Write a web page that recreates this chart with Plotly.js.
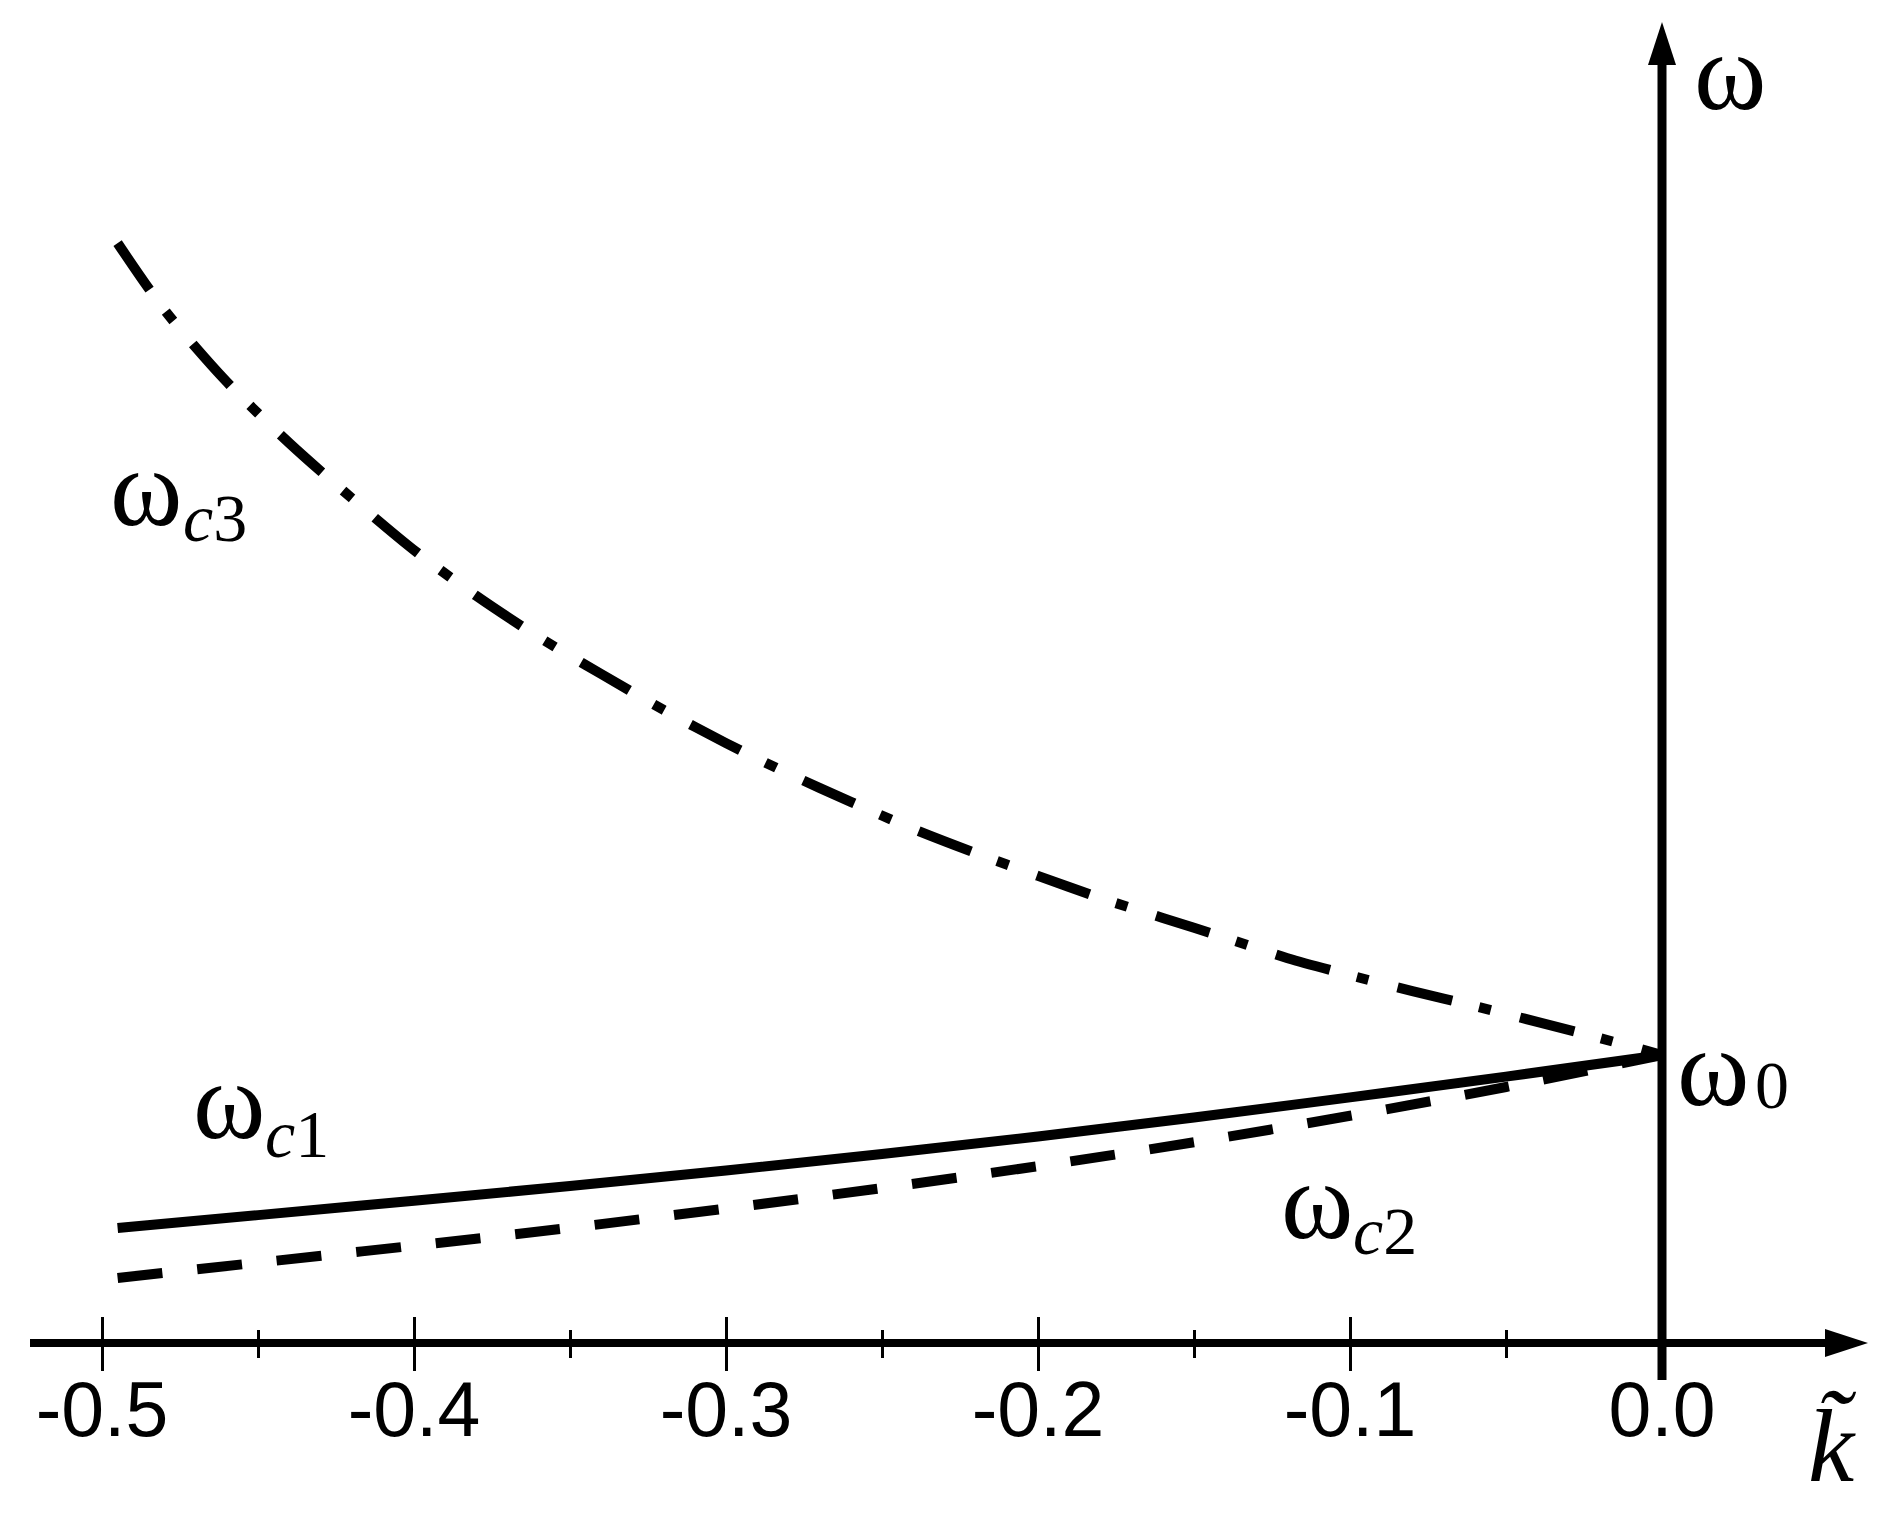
<!DOCTYPE html>
<html>
<head>
<meta charset="utf-8">
<script src="https://cdn.plot.ly/plotly-3.0.1.min.js"></script>
<style>html,body{margin:0;padding:0;background:#fff;}</style>
</head>
<body>
<div id="chart" style="width:1903px;height:1527px;"></div>
<script>
// ---- data ----
const kTicks = [-0.5, -0.4, -0.3, -0.2, -0.1, 0.0];
const kTickText = ['-0.5', '-0.4', '-0.3', '-0.2', '-0.1', '0.0'];
const kMinor = [-0.45, -0.35, -0.25, -0.15, -0.05];

const kC3 = [-0.495, -0.48, -0.46, -0.44, -0.42, -0.40, -0.38, -0.36, -0.34, -0.32, -0.30, -0.28, -0.26,
             -0.24, -0.22, -0.20, -0.18, -0.16, -0.14, -0.12, -0.10, -0.08, -0.06, -0.04, -0.02, 0.0];
const omegaC3 = [3.819, 3.587, 3.337, 3.125, 2.934, 2.753, 2.594, 2.451, 2.323, 2.198, 2.083, 1.977, 1.879,
                 1.785, 1.701, 1.622, 1.545, 1.476, 1.407, 1.336, 1.277, 1.222, 1.170, 1.115, 1.059, 1.0];

const kC12 = [-0.495, -0.45, -0.40, -0.35, -0.30, -0.25, -0.20, -0.15, -0.10, -0.05, 0.0];
const omegaC1 = [0.399, 0.444, 0.494, 0.545, 0.599, 0.656, 0.717, 0.783, 0.853, 0.925, 1.0];
const omegaC2 = [0.226, 0.279, 0.338, 0.400, 0.467, 0.538, 0.614, 0.697, 0.789, 0.889, 1.0];

const axisLabelY = 'ω';
const axisLabelX = 'k\u0303';
const curveNames = ['ω', 'ω', 'ω'];
const curveSubs = ['<i>c</i>3', '<i>c</i>1', '<i>c</i>2'];
const originName = 'ω';
const originSub = '0';

// ---- geometry helpers (pixel -> data) ----
const W = 1903, H = 1527;
const PX0 = 1662, PXU = 3120, PY0 = 1343, PYU = 288;
const pk = p => (p - PX0) / PXU;
const pw = p => (PY0 - p) / PYU;
const xr = [pk(0), pk(W)];
const yr = [pw(H), pw(0)];
const xpos = (0 - yr[0]) / (yr[1] - yr[0]);

const black = '#000000';
const serif = 'Liberation Serif, Times New Roman, serif';
const sans = 'Liberation Sans, Arial, sans-serif';

const traces = [
  {x: kC3, y: omegaC3, mode: 'lines', line: {color: black, width: 10, shape: 'spline', smoothing: 0.8, dash: '56px,28px,12px,30px'}, hoverinfo: 'skip', showlegend: false},
  {x: kC12, y: omegaC1, mode: 'lines', line: {color: black, width: 10, shape: 'spline', smoothing: 1.0}, hoverinfo: 'skip', showlegend: false},
  {x: kC12, y: omegaC2, mode: 'lines', line: {color: black, width: 10, shape: 'spline', smoothing: 1.0, dash: '45px,35px'}, hoverinfo: 'skip', showlegend: false},
  {x: [kTicks[0]], y: [0], xaxis: 'x2', mode: 'markers', marker: {opacity: 0}, hoverinfo: 'skip', showlegend: false}
];

function mkAxis(len, minorLen, side, labels) {
  return {
    range: xr, anchor: 'free', position: xpos, side: side,
    showline: false, zeroline: false, showgrid: false, fixedrange: true,
    ticks: 'outside', ticklen: len, tickwidth: 3, tickcolor: black,
    tickmode: 'array', tickvals: kTicks, ticktext: kTickText,
    showticklabels: labels, ticklabelstandoff: labels ? -27 : 0,
    tickfont: {family: sans, size: 77, color: black},
    minor: {tickmode: 'array', tickvals: kMinor, ticks: 'outside', ticklen: minorLen, tickwidth: 3, tickcolor: black, showgrid: false}
  };
}

const shapes = [
  {type: 'line', xref: 'x', yref: 'y', x0: pk(30), x1: pk(1830), y0: 0, y1: 0, line: {color: black, width: 8}},
  {type: 'path', xref: 'x', yref: 'y', path: `M ${pk(1868)},0 L ${pk(1825)},${pw(1343 - 14)} L ${pk(1825)},${pw(1343 + 14)} Z`, fillcolor: black, line: {width: 0}},
  {type: 'line', xref: 'x', yref: 'y', x0: 0, x1: 0, y0: pw(1380), y1: pw(60), line: {color: black, width: 9}},
  {type: 'path', xref: 'x', yref: 'y', path: `M 0,${pw(22)} L ${pk(1662 - 14)},${pw(65)} L ${pk(1662 + 14)},${pw(65)} Z`, fillcolor: black, line: {width: 0}}
];

function txt(text, px, py, size, xanchor) {
  return {text: text, x: pk(px), y: pw(py), xref: 'x', yref: 'y', showarrow: false,
          xanchor: xanchor || 'center', yanchor: 'middle', font: {family: serif, size: size, color: black}};
}

const OM = 110, SB = 68;
const annotations = [
  txt(axisLabelY, 1730, 72, OM),
  txt('<i>' + axisLabelX + '</i>', 1832, 1445, 104),
  txt(curveNames[0], 146, 488, OM),
  txt(curveSubs[0], 181, 518, SB, 'left'),
  txt(curveNames[1], 229, 1101, OM),
  txt(curveSubs[1], 263, 1134, SB, 'left'),
  txt(curveNames[2], 1317, 1201, OM),
  txt(curveSubs[2], 1351, 1231, SB, 'left'),
  txt(originName, 1713, 1068, OM),
  txt(originSub, 1753, 1085, SB, 'left')
];

const layout = {
  width: W, height: H,
  margin: {l: 0, r: 0, t: 0, b: 0, pad: 0},
  paper_bgcolor: '#ffffff', plot_bgcolor: '#ffffff',
  showlegend: false,
  xaxis: mkAxis(27, 14, 'bottom', true),
  xaxis2: Object.assign(mkAxis(26, 13, 'top', false), {overlaying: 'x'}),
  yaxis: {range: yr, showline: false, zeroline: false, showgrid: false, showticklabels: false, ticks: '', fixedrange: true},
  shapes: shapes,
  annotations: annotations
};

Plotly.newPlot('chart', traces, layout, {staticPlot: true, displayModeBar: false});
</script>
</body>
</html>
